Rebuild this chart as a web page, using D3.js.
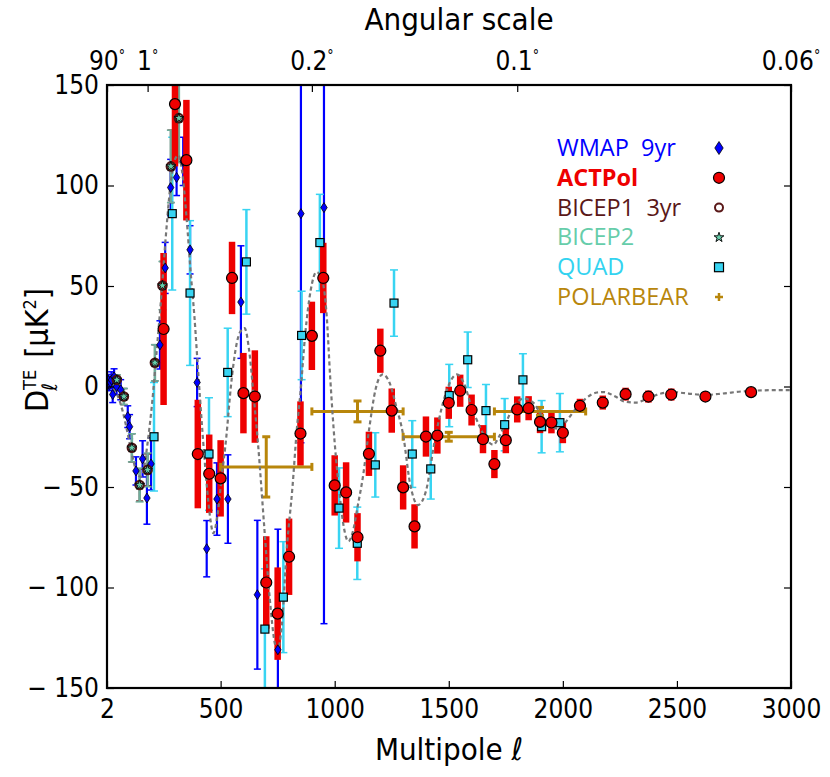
<!DOCTYPE html>
<html>
<head>
<meta charset="utf-8">
<script src="https://cdn.jsdelivr.net/npm/d3@7"></script>
<style>
body { margin: 0; background: #fff; }
text { font-family: "Liberation Sans Narrow", "DejaVu Sans Condensed", sans-serif; }
.legend text { font-family: "Open Sans", sans-serif; }
</style>
</head>
<body>
<svg class="chart"></svg>
<script>
// ---- data ----

// theory curve (LCDM TE)
var theoryL = [2, 10, 20, 35, 50, 70, 90, 110, 130, 150, 165, 180, 200, 220, 240, 260, 280, 300, 315, 330,
	350, 370, 385, 400, 420, 440, 455, 468, 485, 505, 525, 545, 565, 585, 605, 625, 645, 665, 690, 715,
	738, 750, 768, 790, 815, 835, 850, 870, 895, 920, 945, 965, 980, 1000, 1020, 1040, 1060, 1080, 1100, 1125,
	1150, 1180, 1210, 1240, 1270, 1300, 1330, 1365, 1400, 1440, 1475, 1505, 1535, 1565, 1600, 1640, 1670, 1695, 1720, 1750,
	1790, 1830, 1870, 1910, 1950, 1980, 2010, 2050, 2100, 2150, 2180, 2230, 2270, 2320, 2370, 2430, 2480, 2550, 2620, 2700,
	2780, 2850, 2950, 3000];
var theoryD = [0, 2.5, 1, -2, -5, -12, -22, -33, -42, -45, -40, -28, -8, 18, 45, 75, 100, 113, 115, 108,
	85, 55, 35, 10, -22, -50, -66, -73, -65, -45, -25, 0, 18, 27, 29, 18, -5, -30, -68, -105,
	-128, -131, -119, -81, -50, -20, -3, 25, 48, 57, 53, 35, 5, -28, -52, -70, -77, -72, -60, -44,
	-22, -1, 6, 2, -10, -24, -48, -59, -52, -26, -8, 2, 6, 2, -10, -21, -27, -29, -25, -18,
	-9, -6, -8, -15, -20, -21, -18, -12, -6, -3, -2.8, -5, -7.5, -8, -6, -3.5, -2.8, -3.5, -4.2, -3.5,
	-2.5, -2, -1.8, -1.8];

// WMAP 9yr
var wmapL = [4, 8, 12, 17, 22, 27, 33, 44, 62, 93, 101, 129, 158, 177, 195, 234, 257, 281, 307, 336,
	366, 397, 439, 484, 532, 589, 661, 751, 852, 953];
var wmapD = [1, 3, 1, 2, 3.3, -4, 4.8, 0, -1.6, -15, -20, -42, -36, -55.5, -38.5, 20.7, 59, 99, 104, 112,
	68, 2, -80.7, -56, -56, 42, -103.6, -131, 86, 89];
var wmapErr = [3, 3, 3, 3, 4, 4, 4, 4, 5, 5.4, 6, 7, 9, 13, 13, 12, 12.7, 14, 9, 12,
	12, 12, 14, 18, 22, 28, 37, 60, 114, 207];

// ACTPol
var actL = [250, 300, 350, 400, 450, 500, 550, 600, 650, 700, 750, 800, 850, 900, 950, 1000, 1050, 1100, 1150, 1200,
	1250, 1300, 1350, 1400, 1450, 1500, 1550, 1600, 1650, 1700, 1750, 1800, 1850, 1900, 1950, 2000,
	2075, 2175, 2275, 2375, 2475, 2625, 2825];
var actD = [28.6, 140.5, 112.6, -33.6, -43.4, -45.7, 54, -3.3, -5, -97.5, -113, -84.7, -23.4, 25.2, 54, -49.2, -52.7, -75, -33.5, 17.8,
	-12, -50.2, -69.6, -24.9, -24.4, -8.1, -2.1, -11.7, -26.2, -38.6, -26.7, -11.4, -10.8, -17.6, -17.9, -23,
	-9.6, -8, -3.8, -5, -4, -5, -2.8];
var actErr = [37.8, 31, 30, 27, 19.5, 19, 18, 20, 23, 23, 23, 19, 16, 17, 17.5, 15, 15, 12, 11, 11,
	11, 11, 11, 10, 9, 8, 8, 7.7, 7, 7, 6.5, 6.5, 6, 5.6, 5.4, 5.2,
	3.5, 3.5, 3.2, 3, 3, 2, 1.5];

// BICEP1 3yr
var bicep1L = [45, 76, 111, 145, 180, 212, 245, 282, 317];
var bicep1D = [3.3, -5, -30.5, -49, -41.5, 11.8, 50.2, 109.5, 133.5];
var bicep1Err = [2.5, 4, 7, 8, 8, 9, 12, 18, 22];

// BICEP2
var bicep2L = [45, 76, 111, 145, 180, 212, 245, 282, 317];
var bicep2D = [3.3, -5, -30.5, -49, -41.5, 11.8, 50.2, 109.5, 133.5];
var bicep2Err = [2.5, 4, 7, 8.4, 8.4, 9, 12, 18, 22];

// QUAD
var quadL = [208, 288, 366, 449, 531, 613, 694, 775, 855, 935, 1019, 1099, 1178, 1260, 1340, 1421, 1502, 1583, 1663, 1745,
	1825, 1907, 1987];
var quadD = [-25, 86, 46.5, -33.6, 7, 62, -120.7, -104.8, 25.4, 71.6, -60.5, -78, -39, 41.5, -33.6, -41, -4.5, 13.3, -12, -19,
	3.3, -20, -18];
var quadErr = [27, 38, 36, 28, 22, 26, 30, 27.6, 22, 24, 20, 18, 16, 16.5, 16.6, 15, 15.5, 13.8, 13, 13,
	13, 13, 14.5];

// POLARBEAR
var pbL = [700, 1100, 1500, 1900];
var pbD = [-40, -12.4, -25, -12.4];
var pbErr = [15, 5.2, 2.2, 2];
var pbHalfWidth = [200, 200, 200, 200];

// axes
var xTickValues = [2, 500, 1000, 1500, 2000, 2500, 3000];
var yTickValues = [-150, -100, -50, 0, 50, 100, 150];
var angleTicks = [90, 1, 0.2, 0.1, 0.06];

var legendNames = ["WMAP  9yr", "ACTPol", "BICEP1  3yr", "BICEP2", "QUAD", "POLARBEAR"];
var legendColors = ["#0000ff", "#ee0000", "#5a1818", "#66cdaa", "#33d3f0", "#b8860b"];

// ---- chart ----
var W = 830, H = 777;
var pLeft = 107, pRight = 791, pTop = 85, pBottom = 688;

var svg = d3.select(".chart").attr("width", W).attr("height", H);

var x = d3.scaleLinear().domain([2, 3000]).range([pLeft, pRight]);
var y = d3.scaleLinear().domain([-150, 150]).range([pBottom, pTop]);

svg.append("clipPath").attr("id", "plotclip")
	.append("rect").attr("x", pLeft).attr("y", pTop)
	.attr("width", pRight - pLeft).attr("height", pBottom - pTop);

var plot = svg.append("g").attr("clip-path", "url(#plotclip)");

// vertical error bars with caps
function errbars(L, D, E, color, w, cap) {
	var g = plot.append("g").attr("stroke", color).attr("stroke-width", w);
	g.selectAll(null).data(L).enter().append("line")
		.attr("x1", function(d) { return x(d); })
		.attr("x2", function(d) { return x(d); })
		.attr("y1", function(d, i) { return y(D[i] - E[i]); })
		.attr("y2", function(d, i) { return y(D[i] + E[i]); });
	if (cap > 0) {
		[-1, 1].forEach(function(s) {
			g.selectAll(null).data(L).enter().append("line")
				.attr("stroke-width", 1.5)
				.attr("x1", function(d) { return x(d) - cap; })
				.attr("x2", function(d) { return x(d) + cap; })
				.attr("y1", function(d, i) { return y(D[i] + s * E[i]); })
				.attr("y2", function(d, i) { return y(D[i] + s * E[i]); });
		});
	}
}

errbars(wmapL, wmapD, wmapErr, "#0000ff", 2.2, 3.5);
errbars(quadL, quadD, quadErr, "#38d4f2", 2.5, 4);
errbars(bicep1L, bicep1D, bicep1Err, "#5a1818", 2, 3.5);
errbars(bicep2L, bicep2D, bicep2Err, "#6fae9c", 2.5, 4);
errbars(actL, actD, actErr, "#ee0000", 6.5, 0);

// POLARBEAR crosses
var pb = plot.append("g").attr("stroke", "#b8860b").attr("stroke-width", 3);
pb.selectAll(null).data(pbL).enter().append("line")
	.attr("x1", function(d, i) { return x(d - pbHalfWidth[i]); })
	.attr("x2", function(d, i) { return x(d + pbHalfWidth[i]); })
	.attr("y1", function(d, i) { return y(pbD[i]); })
	.attr("y2", function(d, i) { return y(pbD[i]); });
pb.selectAll(null).data(pbL).enter().append("line")
	.attr("x1", function(d) { return x(d); })
	.attr("x2", function(d) { return x(d); })
	.attr("y1", function(d, i) { return y(pbD[i] - pbErr[i]); })
	.attr("y2", function(d, i) { return y(pbD[i] + pbErr[i]); });
[-1, 1].forEach(function(s) {
	pb.selectAll(null).data(pbL).enter().append("line")
		.attr("x1", function(d, i) { return x(d + s * pbHalfWidth[i]); })
		.attr("x2", function(d, i) { return x(d + s * pbHalfWidth[i]); })
		.attr("y1", function(d, i) { return y(pbD[i]) - 4; })
		.attr("y2", function(d, i) { return y(pbD[i]) + 4; });
	pb.selectAll(null).data(pbL).enter().append("line")
		.attr("x1", function(d) { return x(d) - 4; })
		.attr("x2", function(d) { return x(d) + 4; })
		.attr("y1", function(d, i) { return y(pbD[i] + s * pbErr[i]); })
		.attr("y2", function(d, i) { return y(pbD[i] + s * pbErr[i]); });
});

// theory curve
var line = d3.line()
	.x(function(d) { return x(d); })
	.y(function(d, i) { return y(theoryD[i]); })
	.curve(d3.curveMonotoneX);
plot.append("path")
	.attr("d", line(theoryL))
	.attr("fill", "none")
	.attr("stroke", "#777")
	.attr("stroke-width", 2.2)
	.attr("stroke-dasharray", "4,3");

// markers
var diamond = "M0,-5L3.2,0L0,5L-3.2,0Z";
var star = d3.symbol().type(d3.symbolStar).size(30)();

plot.selectAll(".wmap").data(wmapL).enter().append("path")
	.attr("class", "wmap")
	.attr("d", diamond)
	.attr("transform", function(d, i) { return "translate(" + x(d) + "," + y(wmapD[i]) + ")"; })
	.attr("fill", "#0000ff").attr("stroke", "#000").attr("stroke-width", 0.8);

plot.selectAll(".quad").data(quadL).enter().append("rect")
	.attr("class", "quad")
	.attr("x", function(d) { return x(d) - 4; })
	.attr("y", function(d, i) { return y(quadD[i]) - 4; })
	.attr("width", 8).attr("height", 8)
	.attr("fill", "#38d4f2").attr("stroke", "#000").attr("stroke-width", 1.2);

plot.selectAll(".act").data(actL).enter().append("circle")
	.attr("class", "act")
	.attr("cx", function(d) { return x(d); })
	.attr("cy", function(d, i) { return y(actD[i]); })
	.attr("r", 5.5)
	.attr("fill", "#ee0000").attr("stroke", "#000").attr("stroke-width", 1.2);

plot.selectAll(".bicep1").data(bicep1L).enter().append("circle")
	.attr("class", "bicep1")
	.attr("cx", function(d) { return x(d); })
	.attr("cy", function(d, i) { return y(bicep1D[i]); })
	.attr("r", 4.2)
	.attr("fill", "none").attr("stroke", "#4a1414").attr("stroke-width", 2.2);

plot.selectAll(".bicep2").data(bicep2L).enter().append("path")
	.attr("class", "bicep2")
	.attr("d", star)
	.attr("transform", function(d, i) { return "translate(" + x(d) + "," + y(bicep2D[i]) + ")"; })
	.attr("fill", "#66cdaa").attr("stroke", "#000").attr("stroke-width", 0.9);

// axes
var bottomAxis = svg.append("g")
	.attr("transform", "translate(0," + pBottom + ")")
	.call(d3.axisBottom(x).tickValues(xTickValues).tickSize(-7).tickPadding(12)
		.tickFormat(d3.format("d")));
var leftAxis = svg.append("g")
	.attr("transform", "translate(" + pLeft + ",0)")
	.call(d3.axisLeft(y).tickValues(yTickValues).tickSize(-7).tickPadding(8)
		.tickFormat(function(d) { return d < 0 ? "\u2212 " + (-d) : d; }));
var rightAxis = svg.append("g")
	.attr("transform", "translate(" + pRight + ",0)")
	.call(d3.axisRight(y).tickValues(yTickValues).tickSize(-7).tickFormat(""));
var topAxis = svg.append("g")
	.attr("transform", "translate(0," + pTop + ")")
	.call(d3.axisTop(x).tickValues(angleTicks.map(function(t) { return 180 / t; }))
		.tickSize(-7).tickFormat(""));

[bottomAxis, leftAxis, rightAxis, topAxis].forEach(function(a) {
	a.select(".domain").remove();
	a.selectAll("line").attr("stroke", "#000").attr("stroke-width", 1.2);
	a.selectAll("text").attr("fill", "#000").style("font-size", "26px")
		.style("font-family", "'Liberation Sans Narrow', 'DejaVu Sans Condensed', sans-serif");
});

// angular labels with a small raised degree sign
var angLab = svg.append("g").selectAll("text").data(angleTicks).enter().append("text")
	.attr("x", function(d) { return x(180 / d); })
	.attr("y", 70)
	.attr("text-anchor", "middle")
	.style("font-size", "26px");
angLab.append("tspan").text(function(d) { return d; });
angLab.append("tspan").attr("dy", -10).style("font-size", "14px").text("\u00b0");

// frame
svg.append("rect")
	.attr("x", pLeft).attr("y", pTop)
	.attr("width", pRight - pLeft).attr("height", pBottom - pTop)
	.attr("fill", "none").attr("stroke", "#000").attr("stroke-width", 2.2);

// titles
svg.append("text")
	.attr("x", (pLeft + pRight) / 2 + 10).attr("y", 30)
	.attr("text-anchor", "middle").style("font-size", "31px")
	.text("Angular scale");

svg.append("text")
	.attr("x", (pLeft + pRight) / 2).attr("y", 760)
	.attr("text-anchor", "middle").style("font-size", "31px")
	.text("Multipole \u2113");

var ylab = svg.append("text")
	.attr("transform", "translate(48,350) rotate(-90)")
	.attr("text-anchor", "middle").style("font-size", "32px");
ylab.append("tspan").text("D");
ylab.append("tspan").attr("dy", -12).style("font-size", "18px").text("TE");
ylab.append("tspan").attr("dx", -21).attr("dy", 21).style("font-size", "21px").style("font-style", "italic").text("\u2113");
ylab.append("tspan").attr("dx", 16).attr("dy", -9).text(" [\u03bcK");
ylab.append("tspan").attr("dy", -12).style("font-size", "18px").text("2");
ylab.append("tspan").attr("dy", 12).text("]");

// legend
var legend = svg.append("g").attr("class", "legend");
var legY = d3.scalePoint().domain(legendNames).range([148, 297]);
legend.selectAll("text").data(legendNames).enter().append("text")
	.attr("x", 557)
	.attr("y", function(d) { return legY(d) + 8; })
	.attr("fill", function(d, i) { return legendColors[i]; })
	.style("font-size", "23.5px")
	.style("font-weight", function(d, i) { return i == 1 ? "bold" : "normal"; })
	.style("white-space", "pre")
	.text(function(d) { return d; });

var mx = 719;
legend.append("path").attr("d", "M0,-6.5L4.2,0L0,6.5L-4.2,0Z")
	.attr("transform", "translate(" + mx + "," + legY(legendNames[0]) + ")")
	.attr("fill", "#0000ff").attr("stroke", "#000").attr("stroke-width", 0.8);
legend.append("circle").attr("cx", mx).attr("cy", legY(legendNames[1])).attr("r", 5.5)
	.attr("fill", "#ee0000").attr("stroke", "#000").attr("stroke-width", 1.2);
legend.append("circle").attr("cx", mx).attr("cy", legY(legendNames[2])).attr("r", 4)
	.attr("fill", "none").attr("stroke", "#5a1818").attr("stroke-width", 2);
legend.append("path").attr("d", star)
	.attr("transform", "translate(" + mx + "," + legY(legendNames[3]) + ")")
	.attr("fill", "#66cdaa").attr("stroke", "#000").attr("stroke-width", 0.9);
legend.append("rect").attr("x", mx - 4.5).attr("y", legY(legendNames[4]) - 4.5)
	.attr("width", 9).attr("height", 9)
	.attr("fill", "#38d4f2").attr("stroke", "#000").attr("stroke-width", 1.2);
legend.append("path").attr("d", "M-4,0H4M0,-4V4")
	.attr("transform", "translate(" + mx + "," + legY(legendNames[5]) + ")")
	.attr("stroke", "#b8860b").attr("stroke-width", 2.5);
</script>
</body>
</html>
